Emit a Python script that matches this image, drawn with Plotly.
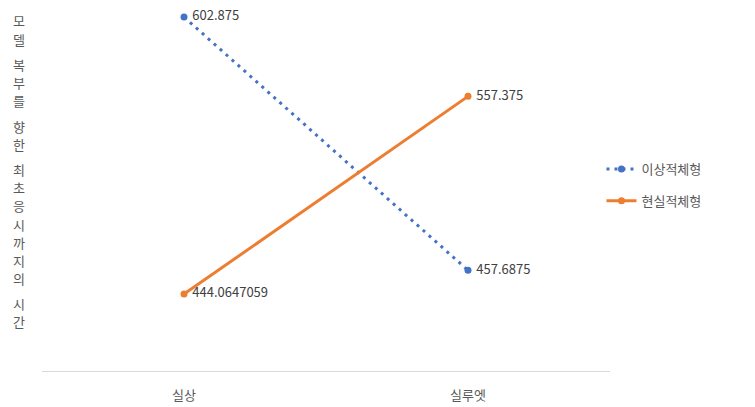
import plotly.graph_objects as go

categories = ["실상", "실루엣"]
series_names = ["이상적체형", "현실적체형"]
ideal_values = [602.875, 457.6875]
real_values = [444.0647059, 557.375]
ideal_labels = [" 602.875", " 457.6875"]
real_labels = [" 444.0647059", " 557.375"]
y_title_words = ["모델", "복부를", "향한", "최초응시까지의", "시간"]

FONT = "Noto Sans CJK KR"
BLUE = "#4472C4"
ORANGE = "#ED7D31"
LABEL = "#404040"
AXIS_TXT = "#595959"

fig = go.Figure()
fig.add_trace(go.Scatter(
    x=categories, y=ideal_values, name=series_names[0], legendgroup="a",
    mode="lines+markers+text", text=ideal_labels, textposition="middle right",
    line=dict(color=BLUE, width=3, dash="3px,5px"),
    marker=dict(color=BLUE, size=7),
    textfont=dict(family=FONT, size=13, color=LABEL),
))
fig.add_trace(go.Scatter(
    x=categories, y=real_values, name=series_names[1], legendgroup="b",
    mode="lines+markers+text", text=real_labels, textposition="middle right",
    line=dict(color=ORANGE, width=3),
    marker=dict(color=ORANGE, size=7),
    textfont=dict(family=FONT, size=13, color=LABEL),
))

W, H = 755, 407
L, R, T, B = 42, 145, 0, 36

# vertical stacked y-axis title (pixel layout converted to paper coords)
annotations = []
y = 21
for word in y_title_words:
    for ch in word:
        annotations.append(dict(
            x=(19 - L) / (W - L - R), y=1 - (y - T) / (H - T - B),
            xref="paper", yref="paper", text=ch, showarrow=False,
            font=dict(family=FONT, size=13, color=AXIS_TXT),
            xanchor="center", yanchor="middle",
        ))
        y += 18.2
    y += 7

fig.update_layout(
    width=W, height=H,
    margin=dict(l=L, r=R, t=T, b=B),
    plot_bgcolor="white", paper_bgcolor="white",
    font=dict(family=FONT, size=13, color=AXIS_TXT),
    xaxis=dict(
        range=[-0.5, 1.5], showgrid=False, zeroline=False,
        showline=True, linecolor="#D9D9D9", linewidth=1,
        ticks="outside", ticklen=12, tickcolor="rgba(0,0,0,0)",
        tickfont=dict(family=FONT, size=13, color=AXIS_TXT),
    ),
    yaxis=dict(
        range=[400, 612.6], showgrid=False, zeroline=False,
        showticklabels=False, showline=False,
    ),
    legend=dict(
        x=0.985, xanchor="left", y=0.585, yanchor="top",
        font=dict(family=FONT, size=13, color=AXIS_TXT),
        tracegroupgap=12, bgcolor="rgba(0,0,0,0)",
    ),
    annotations=annotations,
    showlegend=True,
)

fig.write_html("out.html")
